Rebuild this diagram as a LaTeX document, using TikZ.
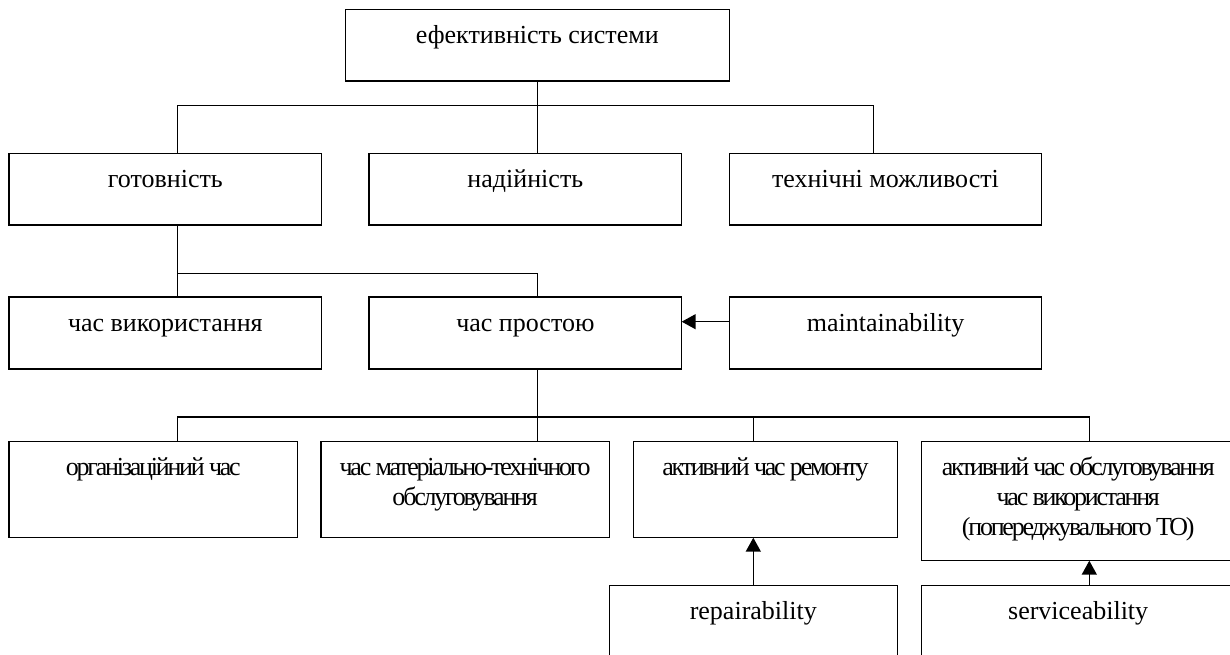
\documentclass[tikz,border=0pt]{standalone}
\usepackage{fontspec}
\setmainfont{Liberation Serif}
\newfontfamily\tightfont[LetterSpace=-8.6]{Liberation Serif}
\usetikzlibrary{arrows.meta,calc}
\begin{document}
\begin{tikzpicture}[x=1pt,y=-1pt,
  box/.style={draw, line width=1.5pt, rectangle, outer sep=0pt, inner sep=0pt, anchor=north west},
  txt/.style={font=\fontsize{26}{30}\selectfont, align=center, anchor=base, inner sep=0pt},
  ttxt/.style={font=\tightfont\fontsize{26}{30}\selectfont, align=center, anchor=base, inner sep=0pt},
  link/.style={line width=1.5pt},
  arr/.style={line width=1.5pt, -{Triangle[length=14pt,width=15pt]}}]
\clip (0,0) rectangle (1230,655);
\fill[white] (0,0) rectangle (1230,655);

% boxes
\node[box, minimum width=384pt,   minimum height=71.7pt] (top)   at (345.3,9.3) {};
\node[box, minimum width=312.7pt, minimum height=71.7pt] (got)   at (9,153.3) {};
\node[box, minimum width=312.7pt, minimum height=71.7pt] (nad)   at (369,153.3) {};
\node[box, minimum width=312.4pt, minimum height=71.7pt] (tech)  at (729.3,153.3) {};
\node[box, minimum width=312.7pt, minimum height=72pt]   (vyk)   at (9,297) {};
\node[box, minimum width=312.7pt, minimum height=72pt]   (prost) at (369,297) {};
\node[box, minimum width=312.4pt, minimum height=72pt]   (maint) at (729.3,297) {};
\node[box, minimum width=288.7pt, minimum height=96pt]   (org)   at (9,441.7) {};
\node[box, minimum width=288.3pt, minimum height=96pt]   (mat)   at (321,441.7) {};
\node[box, minimum width=264.2pt, minimum height=96pt]   (ar)    at (633.3,441.7) {};
\node[box, minimum width=313.5pt, minimum height=119pt]  (am)    at (921.5,441.7) {};
\node[box, minimum width=288pt,   minimum height=100pt]  (rep)   at (609.3,585.3) {};
\node[box, minimum width=313.7pt, minimum height=100pt]  (serv)  at (921.3,585.3) {};

% texts (base anchor = baseline of the last line)
\node[txt]  (ttop)   at ($(top.north)+(0,34)$)   {ефективність системи};
\node[txt]  (tgot)   at ($(got.north)+(0,34)$)   {готовність};
\node[txt]  (tnad)   at ($(nad.north)+(0,34)$)   {надійність};
\node[txt]  (ttech)  at ($(tech.north)+(0,34)$)  {технічні можливості};
\node[txt]  (tvyk)   at ($(vyk.north)+(0,34)$)   {час використання};
\node[txt]  (tprost) at ($(prost.north)+(0,34)$) {час простою};
\node[txt]  (tmaint) at ($(maint.north)+(0,34)$) {maintainability};
\node[ttxt] (torg)   at ($(org.north)+(0,34)$)   {організаційний час};
\node[ttxt] (tmat)   at ($(mat.north)+(0,64)$)   {час матеріально-технічного\\обслуговування};
\node[ttxt] (tar)    at ($(ar.north)+(0,34)$)    {активний час ремонту};
\node[ttxt] (tam)    at ($(am.north)+(0,94)$)    {активний час обслуговування\\час використання\\(попереджувального ТО)};
\node[txt]  (trep)   at ($(rep.north)+(0,34)$)   {repairability};
\node[txt]  (tserv)  at ($(serv.north)+(0,34)$)  {serviceability};

% junction coordinates
\coordinate (c1) at (177.3,105.3);
\coordinate (c3) at (873.3,105.3);
\coordinate (j2) at (537.3,273.3);
\coordinate (k1) at (177.3,417);
\coordinate (j3) at (537.3,417);
\coordinate (k3) at (753.3,417);
\coordinate (k4) at (1089.3,417);
\coordinate (a1) at (0,321.7);

% tree connectors
\draw[link] (top.south) -- (nad.north -| top.south);
\draw[link] (got.north -| c1) |- (c3) -- (tech.north -| c3);
\draw[link] (got.south -| c1) -- (vyk.north -| c1);
\draw[link] (j2 -| c1) -- (j2) -- (prost.north -| j2);
\draw[link] (prost.south -| j3) -- (mat.north -| j3);
\draw[link] (org.north -| k1) |- (k4) -- (am.north -| k4);
\draw[link] (k3) -- (ar.north -| k3);

% arrows
\draw[arr] (maint.west |- a1) -- (prost.east |- a1);
\draw[arr] (rep.north -| k3) -- (ar.south -| k3);
\draw[arr] (serv.north -| k4) -- (am.south -| k4);
\end{tikzpicture}
\end{document}
